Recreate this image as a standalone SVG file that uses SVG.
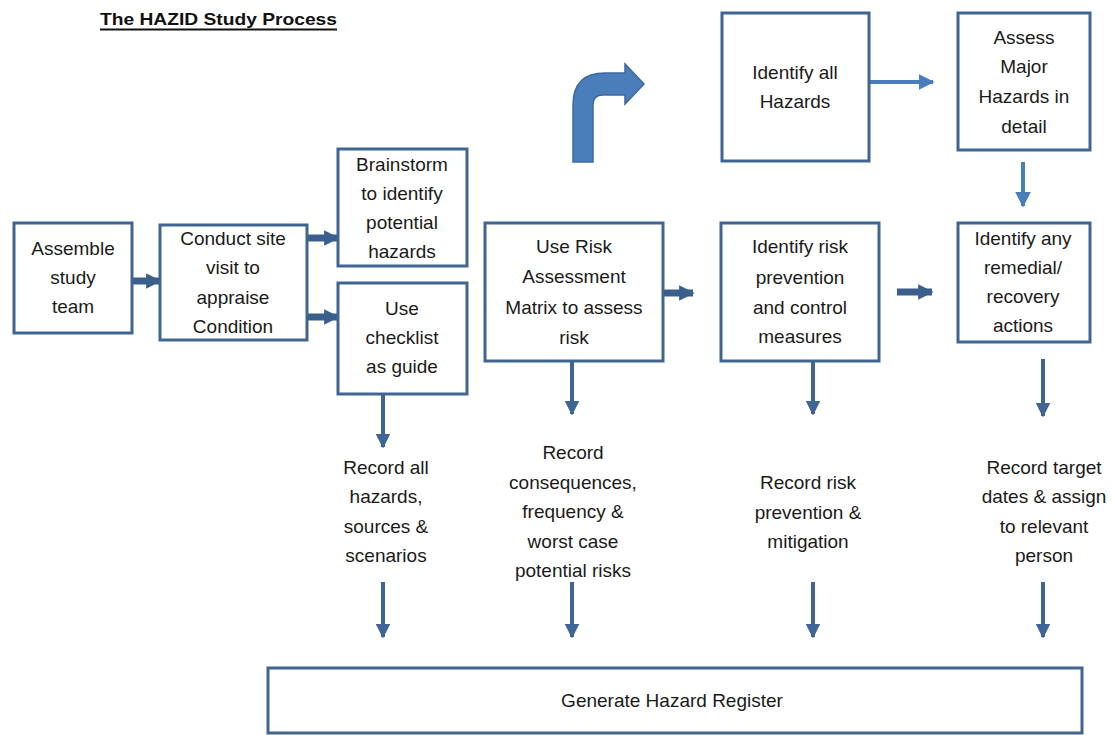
<svg xmlns="http://www.w3.org/2000/svg" width="1113" height="735" viewBox="0 0 1113 735">
<defs>
<style>
.box{fill:#ffffff;stroke:#3f6593;stroke-width:3}
.t{font-family:"Liberation Sans",Arial,sans-serif;font-size:19px;fill:#1a1a1a;text-anchor:middle}
.title{font-family:"Liberation Sans",Arial,sans-serif;font-size:17px;font-weight:bold;fill:#111}
.thick{stroke:#3b5f8d;stroke-width:7;fill:none}
.thin{stroke:#3f6597;stroke-width:4;fill:none}
.lt{stroke:#4a7ebb;stroke-width:4;fill:none}
</style>
<marker id="ah" viewBox="0 0 10 10" refX="9" refY="5" markerWidth="2.2" markerHeight="2.2" orient="auto" markerUnits="strokeWidth"><path d="M0,0 L10,5 L0,10 Z" fill="#3b5f8d"/></marker>
<marker id="ah2" viewBox="0 0 10 10" refX="9" refY="5" markerWidth="3.6" markerHeight="3.6" orient="auto" markerUnits="strokeWidth"><path d="M0,0 L10,5 L0,10 Z" fill="#3f6597"/></marker>
<marker id="ah3" viewBox="0 0 10 10" refX="9" refY="5" markerWidth="4" markerHeight="4" orient="auto" markerUnits="strokeWidth"><path d="M0,0 L10,5 L0,10 Z" fill="#4a7ebb"/></marker>
</defs>
<rect width="1113" height="735" fill="#ffffff"/>
<g id="title">
<text class="title" x="100" y="25" textLength="237" lengthAdjust="spacingAndGlyphs">The HAZID Study Process</text>
<line x1="100" y1="29.5" x2="337" y2="29.5" stroke="#111" stroke-width="2"/>
</g>
<g id="connectors">
<line class="thick" x1="132" y1="281" x2="160" y2="281" marker-end="url(#ah)"/>
<line class="thick" x1="307" y1="238" x2="338" y2="238" marker-end="url(#ah)"/>
<line class="thick" x1="307" y1="317" x2="338" y2="317" marker-end="url(#ah)"/>
<line class="thick" x1="663" y1="293" x2="693" y2="293" marker-end="url(#ah)"/>
<line class="thick" x1="897" y1="292" x2="932" y2="292" marker-end="url(#ah)"/>
<line class="lt" x1="868" y1="82" x2="933" y2="82" marker-end="url(#ah3)"/>
<line class="lt" x1="1023" y1="162" x2="1023" y2="206" marker-end="url(#ah3)"/>
<line class="thin" x1="383" y1="394" x2="383" y2="447" marker-end="url(#ah2)"/>
<line class="thin" x1="572" y1="361" x2="572" y2="414" marker-end="url(#ah2)"/>
<line class="thin" x1="813" y1="361" x2="813" y2="414" marker-end="url(#ah2)"/>
<line class="thin" x1="1043" y1="359" x2="1043" y2="416" marker-end="url(#ah2)"/>
<line class="thin" x1="383" y1="582" x2="383" y2="637" marker-end="url(#ah2)"/>
<line class="thin" x1="572" y1="582" x2="572" y2="637" marker-end="url(#ah2)"/>
<line class="thin" x1="813" y1="582" x2="813" y2="637" marker-end="url(#ah2)"/>
<line class="thin" x1="1043" y1="582" x2="1043" y2="637" marker-end="url(#ah2)"/>
<path id="bent-arrow" d="M573,162 L573,105 Q573,73 605,73 L625,73 L625,64 L644,84 L625,104 L625,95 L603,95 Q593,95 593,105 L593,162 Z" fill="#4a7ebb" stroke="#3d6a9e" stroke-width="1.5"/>
</g>
<g id="n-assemble">
<rect class="box" x="14" y="223" width="118" height="110"/>
<text class="t" x="73" y="255">Assemble</text>
<text class="t" x="73" y="284">study</text>
<text class="t" x="73" y="313">team</text>
</g>
<g id="n-conduct">
<rect class="box" x="160" y="225" width="147" height="115"/>
<text class="t" x="233" y="245">Conduct site</text>
<text class="t" x="233" y="274">visit to</text>
<text class="t" x="233" y="304">appraise</text>
<text class="t" x="233" y="333">Condition</text>
</g>
<g id="n-brainstorm">
<rect class="box" x="338" y="149" width="129" height="117"/>
<text class="t" x="402" y="171">Brainstorm</text>
<text class="t" x="402" y="200">to identify</text>
<text class="t" x="402" y="229">potential</text>
<text class="t" x="402" y="258">hazards</text>
</g>
<g id="n-checklist">
<rect class="box" x="338" y="283" width="129" height="111"/>
<text class="t" x="402" y="315">Use</text>
<text class="t" x="402" y="344">checklist</text>
<text class="t" x="402" y="373">as guide</text>
</g>
<g id="n-identify-all">
<rect class="box" x="722" y="13" width="147" height="148"/>
<text class="t" x="795" y="79">Identify all</text>
<text class="t" x="795" y="108">Hazards</text>
</g>
<g id="n-assess">
<rect class="box" x="958" y="13" width="132" height="137"/>
<text class="t" x="1024" y="44">Assess</text>
<text class="t" x="1024" y="73">Major</text>
<text class="t" x="1024" y="103">Hazards in</text>
<text class="t" x="1024" y="133">detail</text>
</g>
<g id="n-risk-matrix">
<rect class="box" x="485" y="223" width="178" height="138"/>
<text class="t" x="574" y="253">Use Risk</text>
<text class="t" x="574" y="283">Assessment</text>
<text class="t" x="574" y="314">Matrix to assess</text>
<text class="t" x="574" y="344">risk</text>
</g>
<g id="n-prevention">
<rect class="box" x="721" y="223" width="158" height="138"/>
<text class="t" x="800" y="253">Identify risk</text>
<text class="t" x="800" y="284">prevention</text>
<text class="t" x="800" y="314">and control</text>
<text class="t" x="800" y="343">measures</text>
</g>
<g id="n-remedial">
<rect class="box" x="958" y="223" width="132" height="119"/>
<text class="t" x="1023" y="245">Identify any</text>
<text class="t" x="1023" y="274">remedial/</text>
<text class="t" x="1023" y="303">recovery</text>
<text class="t" x="1023" y="332">actions</text>
</g>
<g id="n-record-hazards">
<text class="t" x="386" y="474">Record all</text>
<text class="t" x="386" y="503">hazards,</text>
<text class="t" x="386" y="533">sources &amp;</text>
<text class="t" x="386" y="562">scenarios</text>
</g>
<g id="n-record-consequences">
<text class="t" x="573" y="459">Record</text>
<text class="t" x="573" y="489">consequences,</text>
<text class="t" x="573" y="518">frequency &amp;</text>
<text class="t" x="573" y="548">worst case</text>
<text class="t" x="573" y="577">potential risks</text>
</g>
<g id="n-record-prevention">
<text class="t" x="808" y="489">Record risk</text>
<text class="t" x="808" y="519">prevention &amp;</text>
<text class="t" x="808" y="548">mitigation</text>
</g>
<g id="n-record-target">
<text class="t" x="1044" y="474">Record target</text>
<text class="t" x="1044" y="503">dates &amp; assign</text>
<text class="t" x="1044" y="533">to relevant</text>
<text class="t" x="1044" y="562">person</text>
</g>
<g id="n-register">
<rect class="box" x="268" y="668" width="814" height="65"/>
<text class="t" x="672" y="707">Generate Hazard Register</text>
</g>
</svg>
